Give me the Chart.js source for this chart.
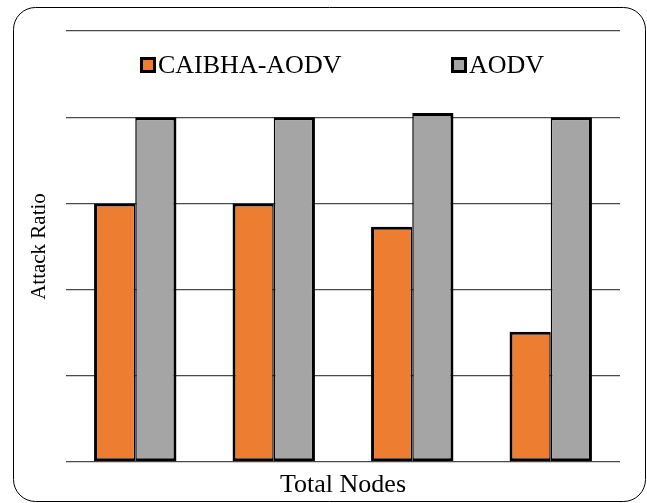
<!DOCTYPE html>
<html>
<head>
<meta charset="utf-8">
<script src="https://cdn.jsdelivr.net/npm/chart.js@4/dist/chart.umd.min.js"></script>
<style>
html,body{margin:0;padding:0;background:#fff;}
canvas{display:block;}
</style>
</head>
<body>
<canvas id="c" width="647" height="503"></canvas>
<script>
// Data
const categories = ["1", "2", "3", "4"];
const seriesNames = ["CAIBHA-AODV", "AODV"];
const caibhaValues = [3.0, 3.0, 2.73, 1.51];
const aodvValues = [4.0, 4.0, 4.05, 4.0];
const yTicks = [0, 1, 2, 3, 4, 5];

const FONT = "'Liberation Serif', 'Times New Roman', Times, serif";
const ORANGE = '#ED7D31';
const GRAY = '#A5A5A5';

const frame = {
  id: 'frame',
  beforeDraw(chart) {
    const ctx = chart.ctx;
    ctx.save();
    ctx.fillStyle = '#fff';
    ctx.fillRect(0, 0, chart.width, chart.height);
    ctx.beginPath();
    ctx.roundRect(13.5, 7.5, 632, 494, 22);
    ctx.strokeStyle = '#000';
    ctx.lineWidth = 1;
    ctx.stroke();
    ctx.restore();
  }
};

const legendInArea = {
  id: 'legendInArea',
  afterDraw(chart) {
    const ctx = chart.ctx;
    const ca = chart.chartArea;
    const xs = [ca.left + 74, ca.left + 385];
    const cy = 65;
    const f = Chart.helpers.toFont({ family: FONT, size: 26, style: 'normal', weight: 'normal' });
    ctx.save();
    chart.data.datasets.forEach((ds, i) => {
      const x = xs[i];
      ctx.fillStyle = ds.backgroundColor;
      ctx.fillRect(x + 1.5, cy - 6.5, 13, 13);
      ctx.strokeStyle = '#000';
      ctx.lineWidth = 3;
      ctx.strokeRect(x + 1.5, cy - 6.5, 13, 13);
      Chart.helpers.renderText(ctx, ds.label, x + 18, cy + 1, f, {
        color: '#000', textAlign: 'left', textBaseline: 'middle'
      });
    });
    ctx.restore();
  }
};

new Chart(document.getElementById('c'), {
  type: 'bar',
  data: {
    labels: categories,
    datasets: [
      { label: seriesNames[0], data: caibhaValues, backgroundColor: ORANGE, borderColor: '#000',
        borderWidth: { top: 3, left: 3, bottom: 3, right: 1.5 }, borderSkipped: false },
      { label: seriesNames[1], data: aodvValues, backgroundColor: GRAY, borderColor: '#000',
        borderWidth: { top: 3, left: 1.5, bottom: 3, right: 3 }, borderSkipped: false }
    ]
  },
  options: {
    responsive: false,
    animation: false,
    devicePixelRatio: 1,
    font: { family: FONT },
    layout: { padding: { top: 31, right: 27, left: 0, bottom: 0 } },
    plugins: { legend: { display: false }, tooltip: { enabled: false } },
    datasets: { bar: { categoryPercentage: 0.595, barPercentage: 1.0 } },
    scales: {
      x: {
        grid: { display: false },
        border: { display: false },
        ticks: { display: false },
        title: { display: true, text: 'Total Nodes', color: '#000', font: { family: FONT, size: 26 }, padding: { top: 0, bottom: 2 } },
        afterFit(s) { s.height = 41; }
      },
      y: {
        min: yTicks[0],
        max: yTicks[yTicks.length - 1],
        afterBuildTicks(s) { s.ticks = yTicks.map(v => ({ value: v })); },
        ticks: { display: false },
        grid: { color: '#4a4a4a', lineWidth: 1.3, drawTicks: false },
        border: { display: false },
        title: { display: true, text: 'Attack Ratio', color: '#000', font: { family: FONT, size: 21 }, padding: { top: 27, bottom: 0 } },
        afterFit(s) { s.width = 66; }
      }
    }
  },
  plugins: [frame, legendInArea]
});
</script>
</body>
</html>
